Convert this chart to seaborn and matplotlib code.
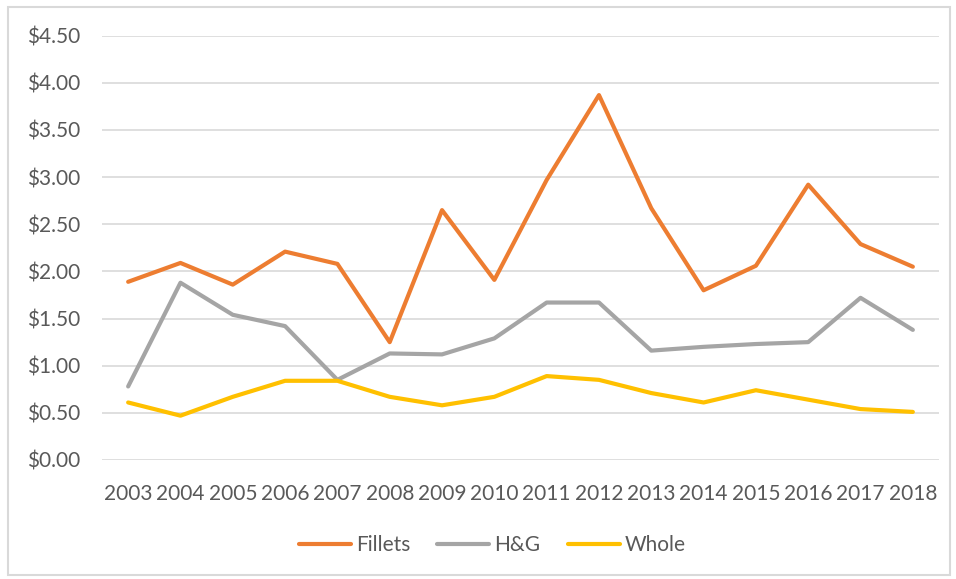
import pandas as pd
import seaborn as sns
import matplotlib.pyplot as plt
from matplotlib.patches import Rectangle

# Data
years = list(range(2003, 2019))
fillets = [1.89, 2.09, 1.86, 2.21, 2.08, 1.25, 2.65, 1.91, 2.97, 3.87, 2.67, 1.80, 2.06, 2.92, 2.29, 2.05]
hg = [0.78, 1.88, 1.54, 1.42, 0.85, 1.13, 1.12, 1.29, 1.67, 1.67, 1.16, 1.20, 1.23, 1.25, 1.72, 1.38]
whole = [0.61, 0.47, 0.67, 0.84, 0.84, 0.67, 0.58, 0.67, 0.89, 0.85, 0.71, 0.61, 0.74, 0.64, 0.54, 0.51]
series_names = ['Fillets', 'H&G', 'Whole']
y_ticks = [0.0, 0.5, 1.0, 1.5, 2.0, 2.5, 3.0, 3.5, 4.0, 4.5]

df = pd.DataFrame({'Year': years * 3,
                   'Price': fillets + hg + whole,
                   'Product': [n for n in series_names for _ in years]})

sns.set_theme(style="white")
plt.rcParams['font.family'] = ['Lato', 'DejaVu Sans']
text_color = '#595959'

fig = plt.figure(figsize=(9.56, 5.79), dpi=100)
ax = fig.add_axes([102 / 956, 1 - 460 / 579, 837 / 956, 424.3 / 579])

# outer chart border
fig.patches.append(Rectangle((8 / 956, 4 / 579), 942 / 956, 568 / 579, transform=fig.transFigure,
                             fill=False, edgecolor='#d9d9d9', linewidth=1.5))

palette = {'Fillets': '#ED7D31', 'H&G': '#A5A5A5', 'Whole': '#FFC000'}
sns.lineplot(data=df, x='Year', y='Price', hue='Product', palette=palette,
             linewidth=3, ax=ax, legend=False)

ax.set_xlim(2002.5, 2018.5)
ax.set_ylim(0, 4.5)
ax.set_yticks(y_ticks)
ax.set_yticklabels([f"${v:.2f}" for v in y_ticks])
ax.set_xticks(years)
ax.set_xticklabels([str(y) for y in years])
ax.yaxis.grid(True, color='#d9d9d9', linewidth=1.2)
ax.set_axisbelow(True)
for s in ax.spines.values():
    s.set_visible(False)
ax.tick_params(axis='y', length=0, pad=16, labelsize=15, labelcolor=text_color)
ax.tick_params(axis='x', length=0, pad=17, labelsize=15, labelcolor=text_color)
ax.set_xlabel('')
ax.set_ylabel('')

handles = [plt.Line2D([], [], color=palette[n], linewidth=3) for n in series_names]
fig.legend(handles, series_names, loc='center', bbox_to_anchor=(0.515, 1 - 545 / 579), ncol=3,
           frameon=False, fontsize=15, labelcolor=text_color, handlelength=2.5,
           handletextpad=0.25, columnspacing=1.3)

fig.savefig('out.png', dpi=100)
